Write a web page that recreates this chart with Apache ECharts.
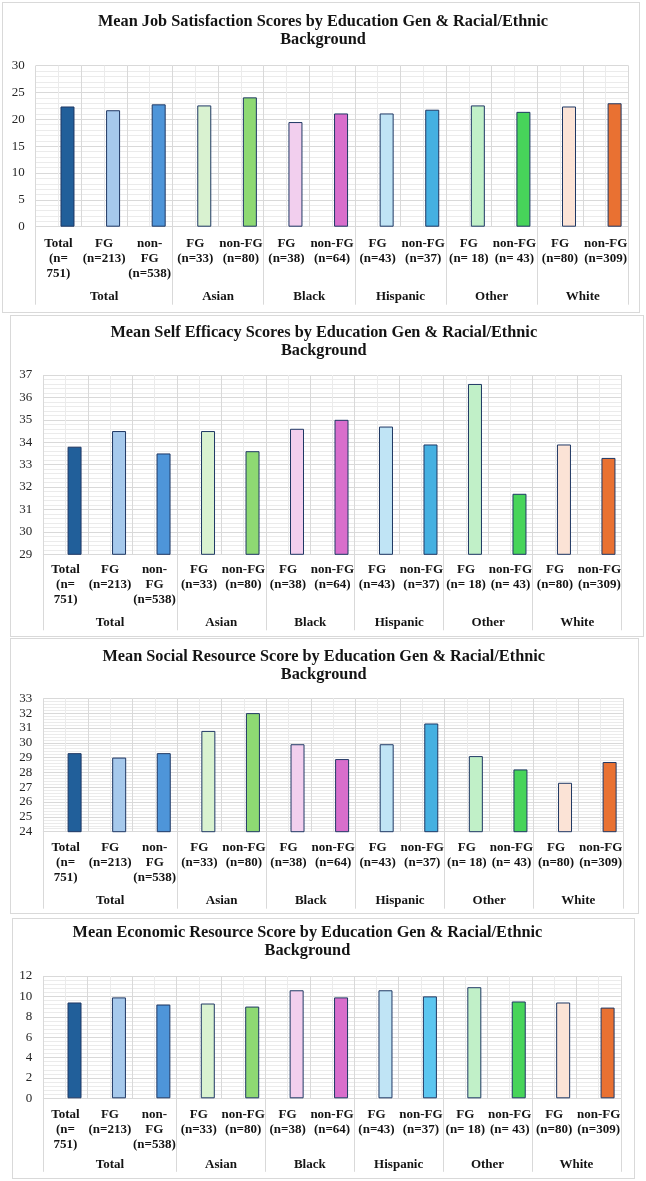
<!DOCTYPE html>
<html>
<head>
<meta charset="utf-8">
<script src="https://cdn.jsdelivr.net/npm/echarts@6/dist/echarts.min.js"></script>
<style>
  body { margin: 0; background: #fff; }
  .panel { position: absolute; border: 1px solid #d9d9d9; box-sizing: border-box; background: #fff; }
</style>
</head>
<body>
<div id="p1" class="panel"></div>
<div id="p2" class="panel"></div>
<div id="p3" class="panel"></div>
<div id="p4" class="panel"></div>
<script>
// categories along the x axis (two label levels)
const categories = [
  'Total\n(n=\n751)', 'FG\n(n=213)', 'non-\nFG\n(n=538)',
  'FG\n(n=33)', 'non-FG\n(n=80)',
  'FG\n(n=38)', 'non-FG\n(n=64)',
  'FG\n(n=43)', 'non-FG\n(n=37)',
  'FG\n(n= 18)', 'non-FG\n(n= 43)',
  'FG\n(n=80)', 'non-FG\n(n=309)'
];
const groups = ['Total', 'Asian', 'Black', 'Hispanic', 'Other', 'White'];
const groupSizes = [3, 2, 2, 2, 2, 2];

const barColors = [
  '#215F9A', '#A6C9EC', '#4E95D9',
  '#D9F2D0', '#8ED973',
  '#F2CFEE', '#D86ECC',
  '#C0E4F5', '#45B0E1',
  '#C1F0C8', '#47D45A',
  '#FBE3D6', '#E97132'
];

// mean scores, same order as categories
const jobSatisfaction = [22.4, 21.7, 22.8, 22.6, 24.1, 19.5, 21.1, 21.1, 21.8, 22.6, 21.4, 22.4, 23.0];
const selfEfficacy = [33.8, 34.5, 33.5, 34.5, 33.6, 34.6, 35.0, 34.7, 33.9, 36.6, 31.7, 33.9, 33.3];
const socialResource = [29.3, 29.0, 29.3, 30.8, 32.0, 29.9, 28.9, 29.9, 31.3, 29.1, 28.2, 27.3, 28.7];
const economicResource = [9.4, 9.9, 9.2, 9.3, 9.0, 10.6, 9.9, 10.6, 10.0, 10.9, 9.5, 9.4, 8.9];

const FONT = '"Times New Roman", "Liberation Serif", serif';
const TEXT = '#141414';

// group edges and centres on a 0..13 scale
const groupEdges = [0];
groupSizes.forEach(s => groupEdges.push(groupEdges[groupEdges.length - 1] + s));
const groupCenters = groups.map((g, i) => (groupEdges[i] + groupEdges[i + 1]) / 2);

const panels = [
  {
    id: 'p1', box: [2, 2, 640, 313], plot: [35.7, 65.7, 628.4, 226.7], titleAt: [323, 30.5],
    title: 'Mean Job Satisfaction Scores by Education Gen & Racial/Ethnic\nBackground',
    values: jobSatisfaction, min: 0, max: 30, interval: 5,
    labelMargin: 9, groupMargin: 63, sepLen: 78
  },
  {
    id: 'p2', box: [10, 315, 644, 637], plot: [43.3, 375, 621.7, 554.3], titleAt: [323.8, 341.3],
    title: 'Mean Self Efficacy Scores by Education Gen & Racial/Ethnic\nBackground',
    values: selfEfficacy, min: 29, max: 37, interval: 1,
    labelMargin: 8, groupMargin: 61.5, sepLen: 76
  },
  {
    id: 'p3', box: [10, 638, 639, 914], plot: [43.3, 698.3, 622.9, 831.7], titleAt: [323.7, 665.5],
    title: 'Mean Social Resource Score by Education Gen & Racial/Ethnic\nBackground',
    values: socialResource, min: 24, max: 33, interval: 1,
    labelMargin: 8.5, groupMargin: 62, sepLen: 77
  },
  {
    id: 'p4', box: [12, 918, 635, 1179], plot: [43.3, 976, 620.8, 1098.3], titleAt: [307.4, 942.2],
    title: 'Mean Economic Resource Score by Education Gen & Racial/Ethnic\nBackground',
    values: economicResource, min: 0, max: 12, interval: 2,
    labelMargin: 8.5, groupMargin: 59.5, sepLen: 73.5,
    colorOverride: { 8: '#5CC6F0' }
  }
];

function drawPanel(p) {
  const dom = document.getElementById(p.id);
  dom.style.left = p.box[0] + 'px';
  dom.style.top = p.box[1] + 'px';
  dom.style.width = (p.box[2] - p.box[0]) + 'px';
  dom.style.height = (p.box[3] - p.box[1]) + 'px';
  const ox = p.box[0] + 1, oy = p.box[1] + 1;
  const colors = barColors.map((c, i) => (p.colorOverride && p.colorOverride[i]) || c);

  const chart = echarts.init(dom);
  const option = {
    animation: false,
    graphic: [{
      type: 'text',
      x: p.titleAt[0] - ox,
      y: p.titleAt[1] - oy,
      style: {
        text: p.title,
        align: 'center',
        verticalAlign: 'middle',
        fontFamily: FONT,
        fontWeight: 'bold',
        fontSize: 16.3,
        lineHeight: 18,
        fill: TEXT
      }
    }],
    grid: {
      left: p.plot[0] - ox,
      top: p.plot[1] - oy,
      width: p.plot[2] - p.plot[0],
      height: p.plot[3] - p.plot[1],
      containLabel: false
    },
    xAxis: [
      {
        type: 'category',
        data: categories,
        z: 2,
        axisLine: { lineStyle: { color: '#d9d9d9', width: 1 } },
        axisTick: { show: false },
        splitLine: { show: true, lineStyle: { color: '#d9d9d9', width: 1 } },
        axisLabel: {
          interval: 0,
          margin: p.labelMargin,
          fontFamily: FONT,
          fontWeight: 'bold',
          fontSize: 13,
          lineHeight: 15,
          color: TEXT
        }
      },
      {
        // minor vertical gridlines at category centres
        type: 'value', min: 0, max: 13, interval: 0.5, z: 1,
        axisLine: { show: false }, axisTick: { show: false }, axisLabel: { show: false },
        splitLine: { show: true, lineStyle: { color: '#ebebeb', width: 1 } }
      },
      {
        // group level labels and separators
        type: 'value', min: 0, max: 13, position: 'bottom', z: 2,
        axisLine: { show: false },
        splitLine: { show: false },
        axisTick: {
          show: true, inside: false, length: p.sepLen,
          customValues: groupEdges,
          lineStyle: { color: '#d9d9d9', width: 1 }
        },
        axisLabel: {
          customValues: groupCenters,
          margin: p.groupMargin,
          fontFamily: FONT,
          fontWeight: 'bold',
          fontSize: 13,
          color: TEXT,
          formatter: v => groups[groupCenters.indexOf(v)] || ''
        }
      }
    ],
    yAxis: {
      type: 'value',
      min: p.min, max: p.max, interval: p.interval,
      axisLine: { show: false },
      axisTick: { show: false },
      axisLabel: { margin: 11, fontFamily: FONT, fontSize: 13, color: '#262626' },
      splitLine: { show: true, lineStyle: { color: '#d9d9d9', width: 1 } },
      minorTick: { show: false, splitNumber: 5 },
      minorSplitLine: { show: true, lineStyle: { color: '#ebebeb', width: 1 } }
    },
    series: [
      { type: 'bar', data: [], barWidth: 14, barGap: '28.6%' },
      {
        type: 'bar',
        barWidth: 14,
        barGap: '28.6%',
        itemStyle: { borderColor: '#1f3864', borderWidth: 1 },
        data: p.values.map((v, i) => ({ value: v, itemStyle: { color: colors[i] } }))
      }
    ]
  };
  chart.setOption(option);
}

panels.forEach(drawPanel);
</script>
</body>
</html>
